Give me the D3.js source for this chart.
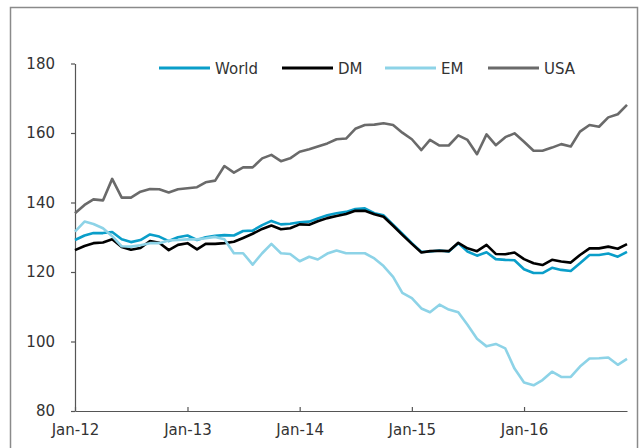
<!DOCTYPE html>
<html>
<head>
<meta charset="utf-8">
<script src="https://cdn.jsdelivr.net/npm/d3@7"></script>
<style>
  html, body { margin: 0; padding: 0; background: #fff; }
  svg { display: block; font-family: "DejaVu Sans", sans-serif; }
</style>
</head>
<body>
<svg id="chart" width="640" height="448"></svg>
<script>
// ---- Data (monthly, Jan-2012 .. Dec-2016) ----
const startMonth = "2012-01";
const seriesNames = ["World", "DM", "EM", "USA"];
const world = [129.2,130.5,131.2,131.2,131.5,129.4,128.6,129.2,130.8,130.2,128.9,130.0,
               130.5,129.2,130.0,130.4,130.6,130.5,131.8,131.9,133.5,134.7,133.7,133.9,
               134.3,134.5,135.4,136.3,136.9,137.3,138.1,138.3,136.9,136.3,133.6,131.0,
               128.3,125.8,125.9,126.2,125.9,128.3,125.9,124.7,125.7,123.7,123.5,123.4,
               120.8,119.7,119.7,121.2,120.6,120.3,122.5,124.9,124.9,125.3,124.4,125.8];
const dm    = [126.3,127.5,128.3,128.5,129.4,127.2,126.4,126.9,128.9,128.4,126.3,127.8,
               128.3,126.5,128.1,128.1,128.3,128.7,129.8,131.0,132.4,133.4,132.3,132.6,
               133.7,133.6,134.6,135.5,136.1,136.7,137.6,137.6,136.6,135.9,133.3,130.7,
               128.1,125.6,126.0,126.1,126.0,128.4,126.8,126.0,127.8,125.2,125.1,125.6,
               123.7,122.5,122.0,123.5,123.0,122.7,124.9,126.8,126.8,127.3,126.7,128.0];
const em    = [131.6,134.5,133.8,132.6,130.3,127.4,127.3,127.7,128.3,128.3,129.1,129.2,
               129.4,129.4,129.7,130.1,129.4,125.4,125.4,122.1,125.4,128.1,125.4,125.2,
               123.1,124.4,123.6,125.3,126.2,125.4,125.4,125.4,123.9,121.7,118.6,114.0,
               112.5,109.5,108.4,110.6,109.2,108.4,104.8,100.8,98.6,99.3,98.0,92.2,
               88.2,87.4,88.9,91.3,89.8,89.8,92.8,95.1,95.2,95.4,93.3,95.0];
const usa   = [136.9,139.3,140.9,140.6,146.8,141.4,141.4,143.1,143.9,143.8,142.9,143.8,
               144.1,144.4,145.8,146.3,150.5,148.6,150.1,150.1,152.7,153.7,151.9,152.7,
               154.6,155.3,156.1,157.0,158.2,158.4,161.2,162.3,162.4,162.8,162.3,160.1,
               158.2,155.1,158.0,156.4,156.4,159.3,158.0,153.9,159.6,156.5,158.8,159.9,
               157.5,154.9,154.9,155.8,156.8,156.1,160.4,162.3,161.8,164.5,165.4,168.1];
const yTicks = [80, 100, 120, 140, 160, 180];
const xTickLabels = ["Jan-12", "Jan-13", "Jan-14", "Jan-15", "Jan-16"];
const colors = ["#0a9ec9", "#000000", "#8dd3e7", "#6a6a6a"];

// ---- Build ----
const parse = d3.timeParse("%Y-%m");
const t0 = parse(startMonth);
const dates = d3.range(world.length).map(i => d3.timeMonth.offset(t0, i));
const allSeries = [world, dm, em, usa];

const svg = d3.select("#chart");
const FONT = "'DejaVu Sans', sans-serif";

// outer frame
svg.append("rect")
  .attr("x", 10.5).attr("y", 7.5).attr("width", 627).attr("height", 460)
  .attr("fill", "none").attr("stroke", "#8a8a8a").attr("stroke-width", 1.5);

const x = d3.scaleTime().domain([dates[0], dates[dates.length - 1]]).range([75, 627]);
const y = d3.scaleLinear().domain([80, 180]).range([411, 63.5]);

const xTickDates = xTickLabels.map(s => d3.timeParse("%b-%y")(s));

// y axis
const yAxis = svg.append("g")
  .attr("transform", "translate(75,0)")
  .call(d3.axisLeft(y).tickValues(yTicks).tickSizeInner(4).tickSizeOuter(0).tickPadding(16));
yAxis.selectAll("path, line").attr("stroke", "#555").attr("stroke-width", 1.2);
yAxis.selectAll("text").attr("font-size", 15).attr("fill", "#333").attr("font-family", FONT);

// x axis
const xAxis = svg.append("g")
  .attr("transform", "translate(0,411)")
  .call(d3.axisBottom(x).tickValues(xTickDates).tickFormat((d, i) => xTickLabels[i])
        .tickSizeInner(-4).tickSizeOuter(0).tickPadding(13));
xAxis.selectAll("path, line").attr("stroke", "#555").attr("stroke-width", 1.2);
xAxis.selectAll("text").attr("font-size", 15).attr("fill", "#333").attr("font-family", FONT);

// lines
const line = d3.line().x((d, i) => x(dates[i])).y(d => y(d));
allSeries.forEach((s, k) => {
  svg.append("path")
    .datum(s)
    .attr("fill", "none")
    .attr("stroke", colors[k])
    .attr("stroke-width", 2.6)
    .attr("stroke-linejoin", "round")
    .attr("d", line);
});

// legend
const legendX = [159, 282, 385, 488];
const legend = svg.append("g");
seriesNames.forEach((name, k) => {
  legend.append("line")
    .attr("x1", legendX[k]).attr("x2", legendX[k] + 51)
    .attr("y1", 68).attr("y2", 68)
    .attr("stroke", colors[k]).attr("stroke-width", 2.8);
  legend.append("text")
    .attr("x", legendX[k] + 56).attr("y", 73.5)
    .attr("font-size", 15).attr("fill", "#333").attr("font-family", FONT)
    .text(name);
});
</script>
</body>
</html>
